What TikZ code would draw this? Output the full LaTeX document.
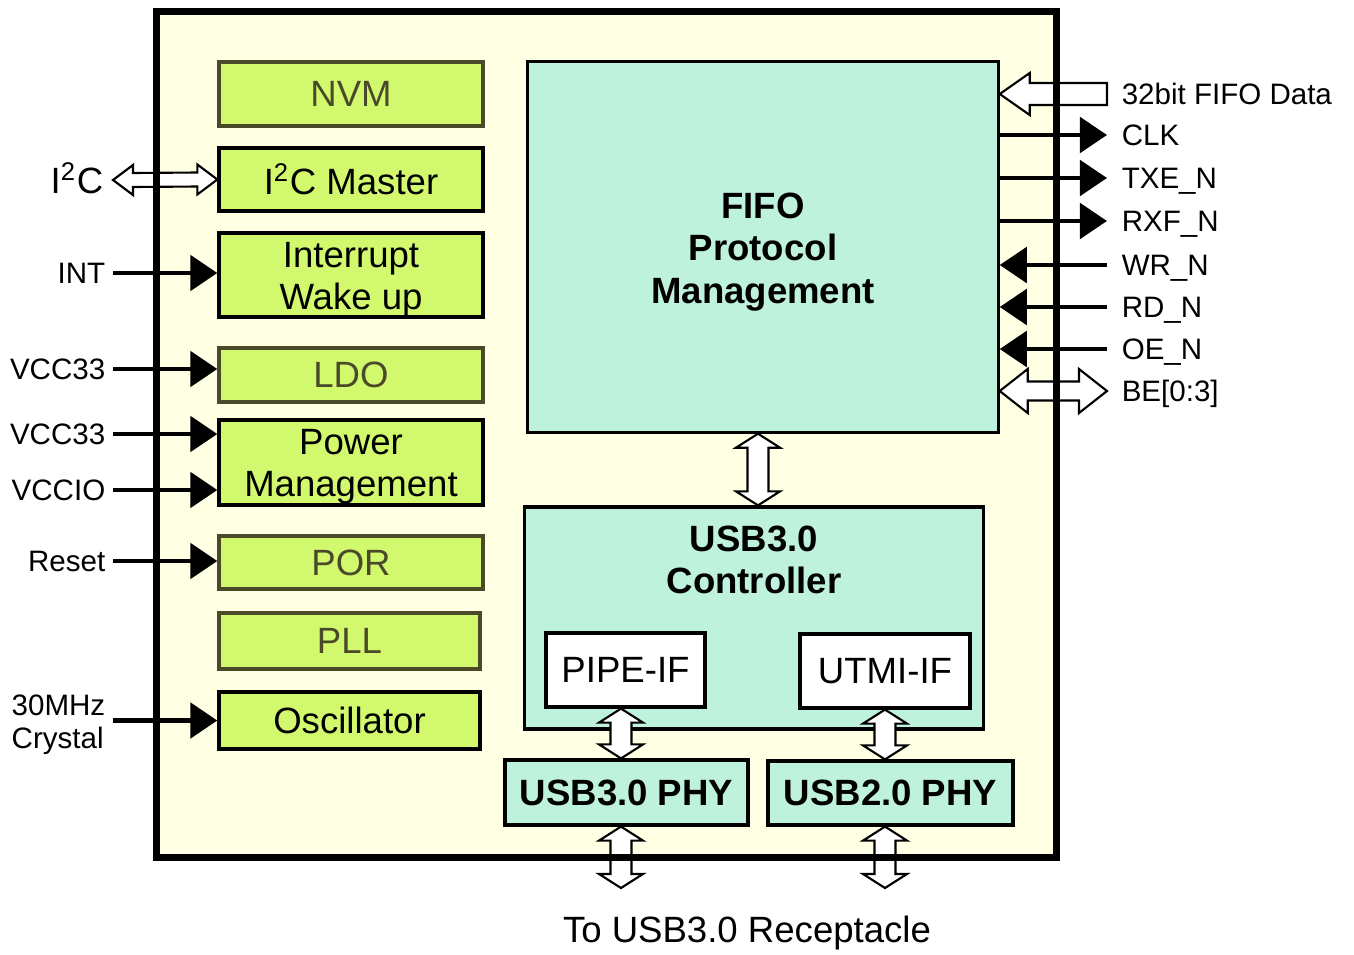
\documentclass[tikz,border=0pt]{standalone}
\usepackage{fontspec}
\setmainfont{Liberation Sans}
\usetikzlibrary{arrows.meta,calc}

\definecolor{chipbg}{HTML}{FFFFE3}
\definecolor{blkgreen}{HTML}{D2F96E}
\definecolor{blkmint}{HTML}{BEF2DC}
\definecolor{dimtext}{HTML}{4A4A2A}

\newcommand{\bigtxt}{\fontsize{10.4}{12}\selectfont}
\newcommand{\pintxt}{\fontsize{8.4}{9.4}\selectfont}

% hollow two-way arrow, top end to bottom end
\newcommand{\vdbl}[2]{%
  \path (#1) coordinate (va) (#2) coordinate (vb);
  \draw[hollow] (va) -- ($(va)+(22,14)$) -- ($(va)+(10.5,14)$) -- ($(vb)+(10.5,-14)$)
    -- ($(vb)+(22,-14)$) -- (vb) -- ($(vb)+(-22,-14)$) -- ($(vb)+(-10.5,-14)$)
    -- ($(va)+(-10.5,14)$) -- ($(va)+(-22,14)$) -- cycle;}
% hollow two-way arrow, left end to right end: head length, head half width, shaft half width
\newcommand{\hdbl}[5]{%
  \path (#1) coordinate (ha) (#2) coordinate (hb);
  \draw[hollow] (ha) -- ($(ha)+(#3,-#4)$) -- ($(ha)+(#3,-#5)$) -- ($(hb)+(-#3,-#5)$)
    -- ($(hb)+(-#3,-#4)$) -- (hb) -- ($(hb)+(-#3,#4)$) -- ($(hb)+(-#3,#5)$)
    -- ($(ha)+(#3,#5)$) -- ($(ha)+(#3,#4)$) -- cycle;}

\tikzset{
  gbox/.style={draw=black, line width=0.9pt, fill=blkgreen, minimum width=2.64cm,
    inner sep=0pt, align=center, font=\bigtxt},
  gboxdim/.style={gbox, draw=dimtext, text=dimtext},
  mbox/.style={draw=black, line width=0.9pt, fill=blkmint, inner sep=0pt, align=center},
  wbox/.style={draw=black, line width=0.9pt, fill=white, inner sep=0pt, font=\bigtxt},
  lines/.style={label={[align=center, font=\bigtxt, yshift=-0.045cm]center:#1}},
  lpin/.style={anchor=east, font=\pintxt, inner sep=0pt, inner xsep=2pt,
    text height=6pt, text depth=0pt},
  rpin/.style={anchor=west, font=\pintxt, inner sep=0pt, inner xsep=4pt,
    text height=6pt, text depth=0pt},
  sig/.style={line width=1.4pt, -{Triangle[length=7.7pt,width=10pt]}},
  hollow/.style={draw=black, line width=0.6pt, fill=white, line join=miter},
}

\begin{document}
\begin{tikzpicture}[x=0.01cm, y=-0.01cm]
    \useasboundingbox (0,0) rectangle (1354,954);
    \node[fill=chipbg, minimum width=8.99cm, minimum height=8.45cm, inner sep=0pt] (chip) at (606.5,434.5) {};

    % left column
    \node[gboxdim, minimum height=0.64cm] (nvm) at (351,94) {NVM};
    \node[gbox, minimum height=0.63cm] (i2cm) at (351,179.5) {I\textsuperscript{2}C Master};
    \node[gbox, minimum height=0.84cm, lines={Interrupt\\Wake up}] (intr) at (351,275) {};
    \node[gboxdim, minimum height=0.54cm] (ldo) at (351,375) {LDO};
    \node[gbox, minimum height=0.85cm, lines={Power\\Management}] (pwr) at (351,462.5) {};
    \node[gboxdim, minimum height=0.53cm] (por) at (351,562.5) {POR};
    \node[gboxdim, minimum width=2.61cm, minimum height=0.56cm] (pll) at (349.5,641) {PLL};
    \node[gbox, minimum width=2.61cm, minimum height=0.57cm] (osc) at (349.5,720.5) {Oscillator};

    % right column
    \node[mbox, minimum width=4.70cm, minimum height=3.70cm,
        label={[align=center, font=\bigtxt\bfseries, yshift=-0.05cm]center:FIFO\\Protocol\\Management}] (fifo) at (763,247) {};
    \node[mbox, minimum width=4.58cm, minimum height=2.22cm] (ctrl) at (754,618) {};
    \node[align=center, font=\bigtxt\bfseries] (ctrltxt) at (754,560) {USB3.0\\Controller};
    \node[wbox, minimum width=1.59cm, minimum height=0.74cm] (pipe) at (625.5,670) {PIPE-IF};
    \node[wbox, minimum width=1.70cm, minimum height=0.74cm] (utmi) at (885,671) {UTMI-IF};
    \node[mbox, minimum width=2.43cm, minimum height=0.65cm, font=\bigtxt\bfseries] (phy3) at (626.5,792.5) {USB3.0 PHY};
    \node[mbox, minimum width=2.45cm, minimum height=0.64cm, font=\bigtxt\bfseries] (phy2) at (890.5,793) {USB2.0 PHY};

    % pins on the left
    \node[lpin, font=\bigtxt, text height=7.4pt] (i2c) at (111,180) {I\textsuperscript{2}C};
    \node[lpin] (int) at (113,273) {INT};
    \node[lpin] (vcca) at (113,369) {VCC33};
    \node[lpin] (vccb) at (113,434) {VCC33};
    \node[lpin] (vccio) at (113,490) {VCCIO};
    \node[lpin] (rst) at (113,561) {Reset};
    \node[anchor=east, font=\pintxt, inner sep=0pt, inner xsep=2pt, align=left] (xtal) at (113,725) {30MHz\\Crystal};

    % pins on the right
    \node[rpin] (data) at (1107,94) {32bit FIFO Data};
    \node[rpin] (clk) at (1107,135) {CLK};
    \node[rpin] (txe) at (1107,178) {TXE\_N};
    \node[rpin] (rxf) at (1107,221) {RXF\_N};
    \node[rpin] (wr) at (1107,265) {WR\_N};
    \node[rpin] (rd) at (1107,307) {RD\_N};
    \node[rpin] (oe) at (1107,349) {OE\_N};
    \node[rpin] (be) at (1107,391) {BE[0:3]};

    \node[font=\bigtxt] (rcpt) at (747,933) {To USB3.0 Receptacle};
    \coordinate (rx3) at (621,888);
    \coordinate (rx2) at (885,888);

    \draw[sig] (int.east) -- (intr.west |- int.east);
    \draw[sig] (vcca.east) -- (ldo.west |- vcca.east);
    \draw[sig] (vccb.east) -- (pwr.west |- vccb.east);
    \draw[sig] (vccio.east) -- (pwr.west |- vccio.east);
    \draw[sig] (rst.east) -- (por.west |- rst.east);
    \draw[sig] (xtal.east |- osc.west) -- (osc.west);
    \hdbl{113,0 |- i2c.east}{i2cm.west}{20}{15}{7}

    \draw[sig] (fifo.east |- clk.west) -- (clk.west);
    \draw[sig] (fifo.east |- txe.west) -- (txe.west);
    \draw[sig] (fifo.east |- rxf.west) -- (rxf.west);
    \draw[sig] (wr.west) -- (fifo.east |- wr.west);
    \draw[sig] (rd.west) -- (fifo.east |- rd.west);
    \draw[sig] (oe.west) -- (fifo.east |- oe.west);
    \hdbl{fifo.east |- be.west}{be.west}{28}{22}{9.5}
    \path (fifo.east |- data.west) coordinate (dtip) (data.west) coordinate (dtail);
    \draw[hollow] (dtip) -- ($(dtip)+(30,-21)$) -- ($(dtip)+(30,-11)$) -- ($(dtail)+(0,-11)$)
        -- ($(dtail)+(0,11)$) -- ($(dtip)+(30,11)$) -- ($(dtip)+(30,21)$) -- cycle;

    \vdbl{758,0 |- fifo.south}{758,0 |- ctrl.north}
    \vdbl{621,0 |- pipe.south}{621,0 |- phy3.north}
    \vdbl{885,0 |- utmi.south}{885,0 |- phy2.north}
    \vdbl{621,0 |- phy3.south}{rx3}
    \vdbl{885,0 |- phy2.south}{rx2}

    \draw[line width=2pt] (chip.north west) rectangle (chip.south east);
\end{tikzpicture}
\end{document}
